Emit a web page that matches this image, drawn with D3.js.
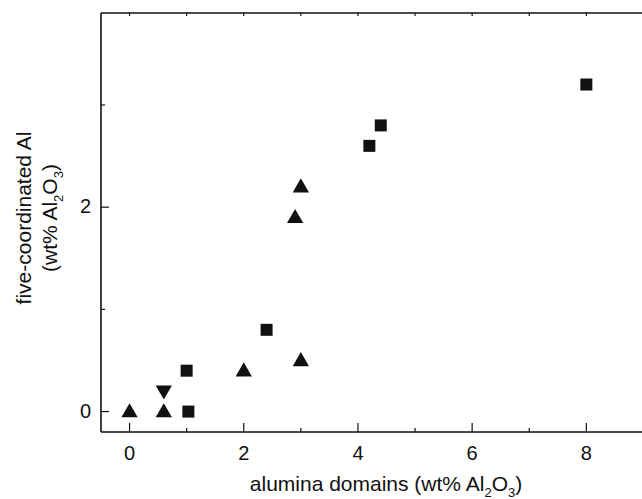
<!DOCTYPE html>
<meta charset="utf-8">
<head>
<style>
body { margin: 0; background: #fff; }
svg text {
  font-family: "Liberation Sans", Arial, sans-serif;
  fill: #111;
}
.tick-label { font-size: 20px; }
.axis-label { font-size: 21px; }
.frame line { stroke: #111; stroke-width: 1.6; }
.tick { stroke: #111; stroke-width: 1.2; }
</style>
</head>
<body>
<svg width="642" height="499"></svg>
<script src="https://cdn.jsdelivr.net/npm/d3@7"></script>
<script>

// squares
var squareX = [1.0, 1.03, 2.4, 4.2, 4.4, 8.0],
    squareY = [0.4, 0.0, 0.8, 2.6, 2.8, 3.2];

// up triangles
var triX = [0, 0.6, 2.0, 3.0, 2.9, 3.0],
    triY = [0, 0, 0.4, 0.5, 1.9, 2.2];

// down triangle
var downX = [0.6],
    downY = [0.2];

var xTicks = [0, 2, 4, 6, 8],
    yTicks = [0, 2];

var svg = d3.select("svg");

var m = {left: 101, right: 672, top: 13, bottom: 432};

var x = d3.scaleLinear().domain([-0.5, 9.5]).range([m.left, m.right]),
    y = d3.scaleLinear().domain([-0.2, 3.9]).range([m.bottom, m.top]);

// frame (right edge is outside the window)
var frame = svg.append("g").attr("class", "frame");
frame.append("line").attr("x1", m.left).attr("x2", m.left).attr("y1", m.top).attr("y2", m.bottom);
frame.append("line").attr("x1", m.left).attr("x2", m.right).attr("y1", m.top).attr("y2", m.top);
frame.append("line").attr("x1", m.left).attr("x2", m.right).attr("y1", m.bottom).attr("y2", m.bottom);

// x ticks: major every 2, minor every 1, inward
var xAll = d3.range(0, 10);
svg.selectAll(".xtick-b")
    .data(xAll)
  .enter().append("line")
    .attr("class", "tick")
    .attr("x1", x).attr("x2", x)
    .attr("y1", m.bottom)
    .attr("y2", function(d) { return m.bottom - (d % 2 ? 4 : 9); });

svg.selectAll(".xtick-t")
    .data(xAll)
  .enter().append("line")
    .attr("class", "tick")
    .attr("x1", x).attr("x2", x)
    .attr("y1", m.top)
    .attr("y2", m.top + 3);

// y ticks
var yAll = [0, 1, 2, 3];
svg.selectAll(".ytick")
    .data(yAll)
  .enter().append("line")
    .attr("class", "tick")
    .attr("y1", y).attr("y2", y)
    .attr("x1", m.left)
    .attr("x2", function(d) { return m.left + (d % 2 ? 4 : 8); });

svg.selectAll(".xlab")
    .data(xTicks)
  .enter().append("text")
    .attr("class", "tick-label")
    .attr("x", x)
    .attr("y", 460)
    .attr("text-anchor", "middle")
    .text(function(d) { return d; });

svg.selectAll(".ylab")
    .data(yTicks)
  .enter().append("text")
    .attr("class", "tick-label")
    .attr("x", 91)
    .attr("y", function(d) { return y(d) + 6; })
    .attr("text-anchor", "end")
    .text(function(d) { return d; });

// axis titles
var xt = svg.append("text")
    .attr("class", "axis-label")
    .attr("x", 386)
    .attr("y", 491)
    .attr("text-anchor", "middle");
xt.append("tspan").text("alumina domains (wt% Al");
xt.append("tspan").attr("font-size", 13).attr("dy", 6).text("2");
xt.append("tspan").attr("dy", -6).text("O");
xt.append("tspan").attr("font-size", 13).attr("dy", 6).text("3");
xt.append("tspan").attr("dy", -6).text(")");

var yt = svg.append("g").attr("transform", "translate(0,218) rotate(-90)");
yt.append("text")
    .attr("class", "axis-label")
    .attr("y", 31)
    .attr("text-anchor", "middle")
    .text("five-coordinated Al");
var yt2 = yt.append("text")
    .attr("class", "axis-label")
    .attr("y", 57)
    .attr("text-anchor", "middle");
yt2.append("tspan").text("(wt% Al");
yt2.append("tspan").attr("font-size", 13).attr("dy", 6).text("2");
yt2.append("tspan").attr("dy", -6).text("O");
yt2.append("tspan").attr("font-size", 13).attr("dy", 6).text("3");
yt2.append("tspan").attr("dy", -6).text(")");

// markers
var sq = 12;
svg.selectAll(".sq")
    .data(d3.zip(squareX, squareY))
  .enter().append("rect")
    .attr("x", function(d) { return x(d[0]) - sq / 2; })
    .attr("y", function(d) { return y(d[1]) - sq / 2; })
    .attr("width", sq)
    .attr("height", sq)
    .attr("fill", "#111");

var tri = d3.symbol().type(d3.symbolTriangle).size(115);

svg.selectAll(".tri")
    .data(d3.zip(triX, triY))
  .enter().append("path")
    .attr("d", tri)
    .attr("transform", function(d) { return "translate(" + x(d[0]) + "," + (y(d[1]) + 1) + ")"; })
    .attr("fill", "#111");

svg.selectAll(".down")
    .data(d3.zip(downX, downY))
  .enter().append("path")
    .attr("d", tri)
    .attr("transform", function(d) { return "translate(" + x(d[0]) + "," + (y(d[1]) - 1) + ") rotate(180)"; })
    .attr("fill", "#111");

</script>
</body>
